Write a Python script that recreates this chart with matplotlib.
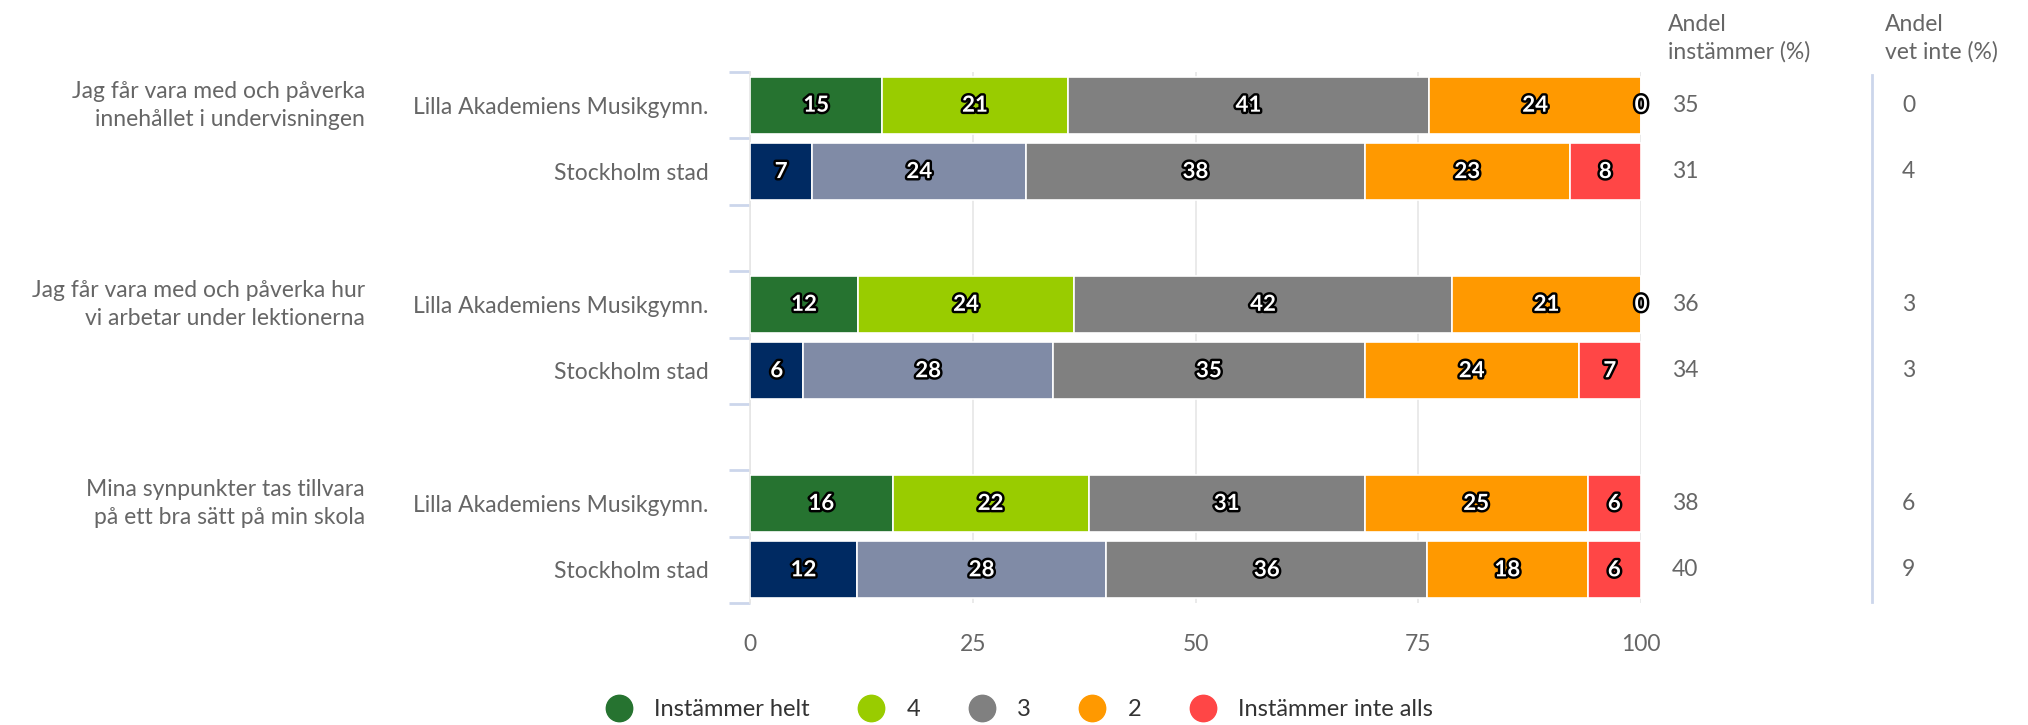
import matplotlib
matplotlib.use("Agg")
import matplotlib.pyplot as plt
import matplotlib.patheffects as pe
import matplotlib.transforms as mtransforms
import numpy as np

plt.rcParams['font.family'] = ['Lato', 'DejaVu Sans']

# data
questions = ["Jag får vara med och påverka\ninnehållet i undervisningen",
             "Jag får vara med och påverka hur\nvi arbetar under lektionerna",
             "Mina synpunkter tas tillvara\npå ett bra sätt på min skola"]
units = ["Lilla Akademiens Musikgymn.", "Stockholm stad"]
series_names = ["Instämmer helt", "4", "3", "2", "Instämmer inte alls"]

lilla = [[15, 21, 41, 24, 0],
         [12, 24, 42, 21, 0],
         [16, 22, 31, 25, 6]]
sthlm = [[7, 24, 38, 23, 8],
         [6, 28, 35, 24, 7],
         [12, 28, 36, 18, 6]]
andel_instammer_lilla = [35, 36, 38]
andel_instammer_sthlm = [31, 34, 40]
andel_vetinte_lilla = [0, 3, 6]
andel_vetinte_sthlm = [4, 3, 9]

colors_lilla = ["#267330", "#99CC00", "#808080", "#FF9900", "#FF4646"]
colors_sthlm = ["#002A62", "#808BA6", "#808080", "#FF9900", "#FF4646"]

W, H = 2028, 725
fig = plt.figure(figsize=(W / 100, H / 100), dpi=100)
ax = fig.add_axes([750 / W, 1 - 603 / H, (1641 - 750) / W, (603 - 72) / H])
ax.set_xlim(0, 100)
ax.set_ylim(7.5, -0.5)

# x in figure coords, y in data coords
trans = mtransforms.blended_transform_factory(fig.transFigure, ax.transData)

outline = [pe.withStroke(linewidth=3.5, foreground="black")]
label_color = "#666666"
fs = 16.5

rows = []  # (ypos, values, colors, instammer, vetinte)
for g in range(3):
    rows.append((g * 3, lilla[g], colors_lilla, andel_instammer_lilla[g], andel_vetinte_lilla[g]))
    rows.append((g * 3 + 1, sthlm[g], colors_sthlm, andel_instammer_sthlm[g], andel_vetinte_sthlm[g]))

for y, vals, cols, ins, vet in rows:
    vals = np.array(vals, dtype=float)
    pct = vals / vals.sum() * 100
    left = 0
    for v, p, c in zip(vals, pct, cols):
        ax.barh(y, p, left=left, height=0.86, color=c, edgecolor="white", linewidth=1.2, zorder=3)
        ax.text(left + p / 2, y, "%d" % v, ha="center", va="center", color="white",
                fontsize=16, fontweight="bold", path_effects=outline, zorder=5)
        left += p
    # right columns
    ax.text(1672 / W, y, str(ins), transform=trans, ha="left", va="center",
            fontsize=fs, color=label_color, clip_on=False)
    ax.text(1902 / W, y, str(vet), transform=trans, ha="left", va="center",
            fontsize=fs, color=label_color, clip_on=False)

ax.set_xticks([0, 25, 50, 75, 100])
ax.tick_params(axis="x", length=0, pad=22, labelsize=fs, labelcolor=label_color)
ax.grid(axis="x", color="#e6e6e6", linewidth=1.2, zorder=0)

ytick_pos = [0, 1, 3, 4, 6, 7]
ax.set_yticks(ytick_pos)
ax.set_yticklabels(units * 3)
ax.tick_params(axis="y", which="major", length=0, pad=30, labelsize=fs, labelcolor=label_color)
ax.set_yticks(np.arange(-0.5, 8, 1), minor=True)
ax.tick_params(axis="y", which="minor", length=15, width=2, color="#ccd6eb")

for s in ["top", "right", "bottom"]:
    ax.spines[s].set_visible(False)
ax.spines["left"].set_color("#e6e6e6")
ax.spines["left"].set_linewidth(1.2)

# question labels
for g, q in enumerate(questions):
    ax.text(365 / W, g * 3, q, transform=trans, ha="right", va="center", fontsize=fs,
            color=label_color, linespacing=1.4, clip_on=False)

# column headers
fig.text(1668 / W, 1 - 38 / H, "Andel\ninstämmer (%)", ha="left", va="center",
         fontsize=fs, color=label_color, linespacing=1.35)
fig.text(1885 / W, 1 - 38 / H, "Andel\nvet inte (%)", ha="left", va="center",
         fontsize=fs, color=label_color, linespacing=1.35)

# separator line
fig.add_artist(plt.Line2D([1872 / W, 1872 / W], [1 - 75 / H, 1 - 602 / H],
                          color="#ccd6eb", linewidth=2))

# legend
handles = [plt.Line2D([], [], marker="o", linestyle="", markersize=19, color=c)
           for c in colors_lilla]
fig.legend(handles, series_names, loc="center", bbox_to_anchor=(0.5, 1 - 710 / H),
           ncol=5, frameon=False, fontsize=17, handletextpad=0.5, columnspacing=1.6,
           labelcolor="#333333")

fig.savefig("out.png", dpi=100)
